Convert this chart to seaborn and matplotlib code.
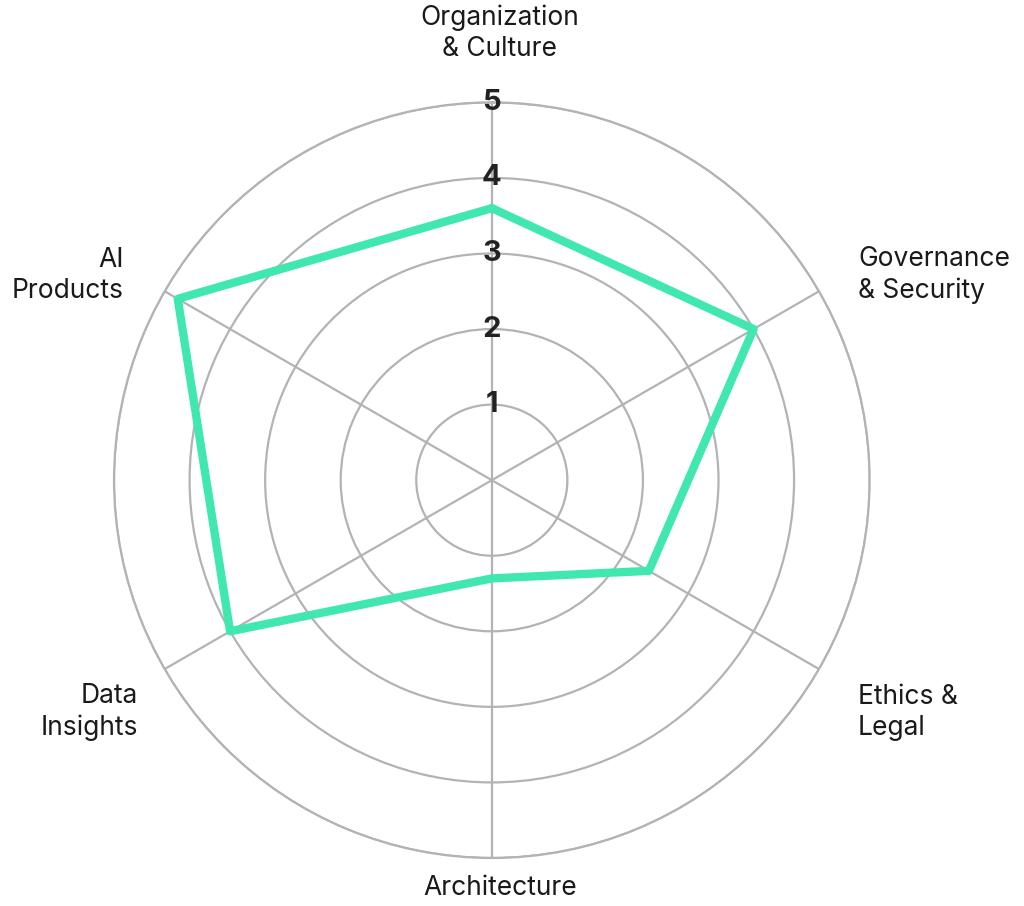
import numpy as np
import pandas as pd
import seaborn as sns
import matplotlib.pyplot as plt

categories = ["Organization\n& Culture", "Governance\n& Security", "Ethics &\nLegal",
              "Architecture", "Data\nInsights", "AI\nProducts"]
scores = [3.6, 4.0, 2.4, 1.3, 4.0, 4.8]
ring_ticks = [1, 2, 3, 4, 5]

sns.set_theme(style="white")
plt.rcParams['font.family'] = ['Inter', 'DejaVu Sans']

grid_col = "#b3b3b3"
line_col = "#40e8b0"

angles = np.linspace(0, 2 * np.pi, len(categories), endpoint=False)
# close the loop at 2*pi so seaborn does not merge the duplicate x
df = pd.DataFrame({"angle": list(angles) + [2 * np.pi],
                   "score": scores + [scores[0]]})

fig = plt.figure(figsize=(10.24, 9.06), dpi=100)
ax = fig.add_axes([0.1113, 0.053, 0.738, 0.834], projection="polar")
ax.set_theta_zero_location("N")
ax.set_theta_direction(-1)

sns.lineplot(data=df, x="angle", y="score", sort=False, estimator=None,
             color=line_col, linewidth=6, ax=ax, zorder=3)

ax.set_ylim(0, 5)
ax.set_yticks(ring_ticks)
ax.set_yticklabels([])
ax.set_xticks(angles)
ax.set_xticklabels([])
ax.set_xlabel("")
ax.set_ylabel("")
ax.grid(True, color=grid_col, linewidth=1.6)
ax.spines["polar"].set_color(grid_col)
ax.spines["polar"].set_linewidth(1.6)

for t in ring_ticks:
    ax.text(0, t, str(t), ha="center", va="center", fontsize=21,
            fontweight="bold", color="#222222", zorder=4)

# category labels, offset (pixels) from the tip of each spoke
label_off = [(8, 69, "center"), (39, 16, "left"), (39, -43, "left"),
             (8, -30, "center"), (-27, -43, "right"), (-41, 16, "right")]
for ang, lab, (dx, dy, ha) in zip(angles, categories, label_off):
    ax.annotate(lab, xy=(ang, 5), xytext=(dx, dy), textcoords="offset pixels",
                ha=ha, va="center", fontsize=19, color="#1a1a1a",
                linespacing=1.25, annotation_clip=False)

fig.savefig("out.png", dpi=100, facecolor="white")
